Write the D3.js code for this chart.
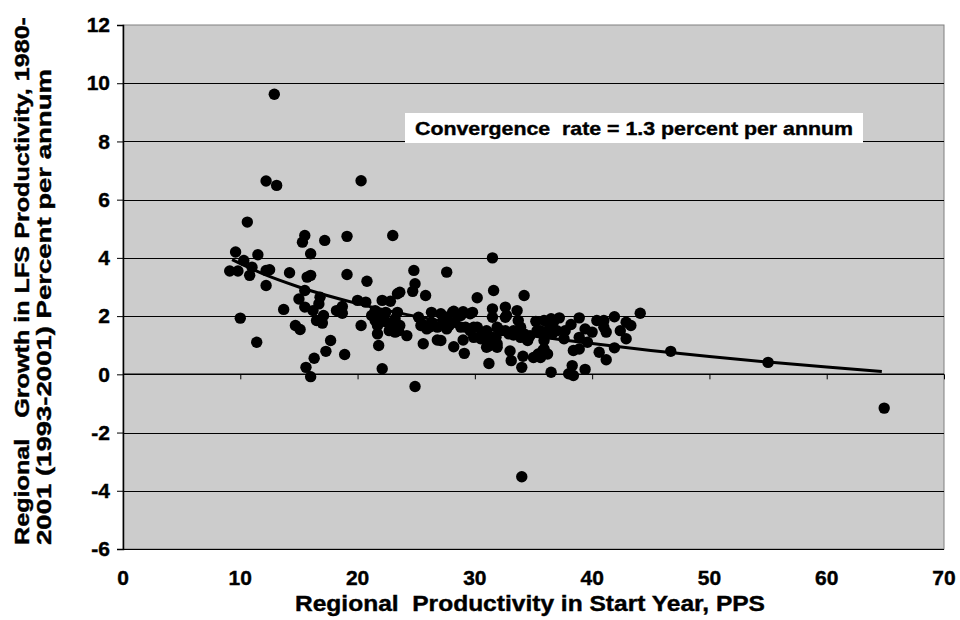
<!DOCTYPE html>
<html>
<head>
<meta charset="utf-8">
<script src="https://cdn.jsdelivr.net/npm/d3@7"></script>
<style>
  body { margin: 0; background: #fff; }
  svg text { font-family: "Liberation Sans", Arial, sans-serif; font-weight: bold; fill: #000; stroke: #000; stroke-width: 0.4px; }
</style>
</head>
<body>
<div id="chart"></div>
<script>
// regional productivity at start year (PPS) vs growth (% per annum)
let points = [
  [12.9, 9.62], [12.2, 6.64], [13.1, 6.49], [20.3, 6.65], [10.6, 5.23], [9.6, 4.2],
  [10.3, 3.91], [9.1, 3.55], [9.8, 3.55], [10.8, 3.4], [11.0, 3.68], [11.5, 4.11],
  [12.2, 3.57], [12.5, 3.59], [12.2, 3.05], [10.0, 1.93], [11.4, 1.1], [14.2, 3.49],
  [13.7, 2.23], [14.7, 1.68], [15.1, 1.54], [15.5, 4.77], [15.3, 4.54], [16.0, 4.14],
  [15.7, 3.34], [16.0, 3.4], [17.2, 4.6], [15.5, 2.88], [15.0, 2.59], [15.5, 2.31],
  [16.2, 2.19], [16.8, 2.65], [16.7, 2.42], [16.5, 1.85], [17.0, 1.76], [17.1, 2.02],
  [17.7, 1.16], [17.3, 0.79], [16.3, 0.55], [15.6, 0.24], [16.0, -0.08], [19.1, 4.74],
  [19.1, 3.43], [18.2, 2.19], [18.7, 2.33], [18.7, 2.1], [18.9, 0.68], [23.0, 4.77],
  [31.5, 4.0], [20.8, 3.2], [24.8, 3.57], [27.6, 3.51], [24.9, 3.11], [24.7, 2.85],
  [25.8, 2.71], [23.6, 2.82], [23.4, 2.77], [31.6, 2.88], [30.2, 2.63], [34.2, 2.71],
  [20.0, 2.54], [20.7, 2.48], [22.1, 2.54], [22.8, 2.51], [21.5, 2.19], [22.4, 2.13],
  [21.2, 2.02], [21.5, 1.85], [21.9, 1.91], [21.7, 1.68], [22.5, 1.79], [23.2, 1.91],
  [23.6, 1.68], [22.7, 1.5], [23.2, 1.45], [24.2, 1.33], [23.4, 2.13], [22.2, 2.08],
  [23.1, 1.79], [23.5, 1.5], [21.7, 1.39], [21.8, 0.99], [22.1, 0.19], [24.9, -0.42],
  [20.3, 1.68], [25.6, 1.05], [26.8, 1.18], [28.2, 0.95], [29.1, 0.72], [29.0, 1.18],
  [27.1, 1.16], [31.2, 0.37], [33.0, 0.8], [33.1, 0.47], [34.0, 0.24], [34.1, 0.62],
  [35.0, 0.58], [35.4, 0.7], [35.8, 0.82], [36.2, 0.7], [25.2, 1.96], [25.5, 1.73],
  [25.9, 1.56], [26.3, 2.13], [26.3, 1.79], [26.8, 1.62], [27.1, 2.08], [27.3, 1.73],
  [27.6, 1.56], [28.1, 2.13], [28.3, 1.79], [28.8, 2.02], [29.2, 1.62], [29.6, 2.08],
  [29.6, 1.5], [30.2, 1.62], [30.6, 1.45], [31.0, 1.5], [31.5, 1.27], [31.9, 1.05],
  [32.2, 1.5], [32.6, 2.31], [32.6, 1.96], [33.3, 1.5], [33.6, 2.19], [33.9, 1.62],
  [34.2, 1.39], [34.6, 1.27], [31.5, 2.25], [31.5, 1.96], [29.9, 1.27], [30.8, 1.27],
  [31.3, 0.99], [31.9, 1.62], [32.9, 1.39], [32.7, 2.02], [33.7, 1.85], [35.2, 1.82],
  [36.4, 1.73], [28.2, 2.17], [29.0, 2.15], [29.8, 2.13], [27.3, 1.85], [28.8, 1.62],
  [29.9, 1.62], [31.3, 1.16], [31.8, 1.27], [32.6, 1.5], [33.3, 1.35], [33.9, 1.27],
  [34.5, 1.16], [30.5, 1.22], [31.0, 0.93], [31.9, 0.93], [35.6, 1.5], [36.2, 1.39],
  [36.5, 0.07], [35.9, 1.16], [34.7, 1.33], [35.3, 1.5], [25.4, 1.68], [26.1, 1.62],
  [27.6, 1.96], [27.8, 1.68], [44.1, 2.1], [41.9, 1.98], [40.4, 1.85], [41.0, 1.85],
  [42.9, 1.79], [43.3, 1.68], [42.4, 1.5], [42.9, 1.22], [41.2, 1.45], [41.0, 1.62],
  [38.9, 1.94], [37.2, 1.94], [36.7, 1.79], [38.2, 1.71], [39.4, 1.56], [40.0, 1.45],
  [37.7, 1.5], [37.6, 1.22], [38.9, 1.27], [39.6, 1.1], [38.4, 0.82], [38.9, 0.87],
  [40.6, 0.76], [41.9, 0.91], [41.2, 0.5], [38.3, 0.3], [38.0, 0.02], [38.4, -0.04],
  [39.4, 0.17], [35.9, 0.87], [35.6, 0.58], [36.2, 1.5], [36.6, 1.39], [37.0, 1.5],
  [35.9, 1.85], [36.5, 1.91], [46.7, 0.79], [55.0, 0.41], [64.9, -1.16], [34.0, -3.52]
];

// fitted convergence curve
let trendX = [9.3, 12, 15, 20, 25, 30, 35, 40, 45, 50, 55, 60, 64.7];
let trendY = [3.94, 3.44, 3.0, 2.43, 1.99, 1.62, 1.32, 1.06, 0.82, 0.61, 0.42, 0.25, 0.1];

let xTicks = [0, 10, 20, 30, 40, 50, 60, 70];
let yTicks = [-6, -4, -2, 0, 2, 4, 6, 8, 10, 12];

let svgWidth = 960;
let svgHeight = 620;
let plotLeft = 123, plotRight = 944, plotTop = 25, plotBottom = 549;

let xScale = d3.scaleLinear().domain([0, 70]).range([plotLeft, plotRight]);
let yScale = d3.scaleLinear().domain([-6, 12]).range([plotBottom, plotTop]);

let svg = d3.select("#chart").append("svg")
  .attr("width", svgWidth)
  .attr("height", svgHeight);

// plot area
svg.append("rect")
  .attr("x", plotLeft).attr("y", plotTop)
  .attr("width", plotRight - plotLeft).attr("height", plotBottom - plotTop)
  .attr("fill", "#cccccc")
  .attr("stroke", "#808080")
  .attr("stroke-width", 1);

// gridlines
svg.append("g")
  .selectAll("line")
  .data(yTicks.filter((d) => d !== 0 && d !== 12))
  .enter()
  .append("line")
  .attr("x1", plotLeft).attr("x2", plotRight)
  .attr("y1", (d) => Math.round(yScale(d)) + 0.5)
  .attr("y2", (d) => Math.round(yScale(d)) + 0.5)
  .attr("stroke", "#000")
  .attr("stroke-width", 1);

// y axis
let yAxis = d3.axisLeft(yScale)
  .tickValues(yTicks)
  .tickSize(6)
  .tickPadding(7)
  .tickFormat((d) => String(d));
let gy = svg.append("g")
  .attr("transform", "translate(" + plotLeft + ",0)")
  .call(yAxis);
gy.select(".domain").attr("stroke", "#000").attr("stroke-width", 1.5);
gy.selectAll("text").style("font-size", "21px");

// x axis sits on the zero line, labels down at the bottom
let gx = svg.append("g")
  .attr("transform", "translate(0," + yScale(0) + ")")
  .call(d3.axisBottom(xScale).tickValues(xTicks).tickSize(5).tickFormat(""));
gx.select(".domain").attr("d", "M" + plotLeft + ",0H" + plotRight).attr("stroke", "#000").attr("stroke-width", 1.5);

svg.append("g")
  .selectAll("text")
  .data(xTicks)
  .enter()
  .append("text")
  .attr("x", (d) => xScale(d))
  .attr("y", 585)
  .attr("text-anchor", "middle")
  .style("font-size", "21px")
  .text((d) => d);

// points
svg.append("g")
  .selectAll("circle")
  .data(points)
  .enter()
  .append("circle")
  .attr("cx", (d) => xScale(d[0]))
  .attr("cy", (d) => yScale(d[1]))
  .attr("r", 5.7)
  .attr("fill", "#000");

// trend line
let line = d3.line()
  .x((d) => xScale(d))
  .y((d, i) => yScale(trendY[i]))
  .curve(d3.curveMonotoneX);

svg.append("path")
  .attr("fill", "none")
  .attr("stroke", "#000")
  .attr("stroke-width", 3)
  .attr("d", line(trendX));

// annotation box
svg.append("rect")
  .attr("x", 405).attr("y", 113)
  .attr("width", 458).attr("height", 30)
  .attr("fill", "#fff");
svg.append("text")
  .attr("x", 415).attr("y", 135)
  .style("font-size", "19px")
  .attr("textLength", 438)
  .attr("lengthAdjust", "spacingAndGlyphs")
  .attr("xml:space", "preserve")
  .text("Convergence  rate = 1.3 percent per annum");

// axis titles
svg.append("text")
  .attr("x", 295).attr("y", 611)
  .attr("xml:space", "preserve")
  .style("font-size", "22px")
  .attr("textLength", 470)
  .attr("lengthAdjust", "spacingAndGlyphs")
  .text("Regional  Productivity in Start Year, PPS");

svg.append("text")
  .attr("transform", "translate(29,545) rotate(-90)")
  .attr("xml:space", "preserve")
  .style("font-size", "20px")
  .attr("textLength", 528)
  .attr("lengthAdjust", "spacingAndGlyphs")
  .text("Regional   Growth in LFS Productivity, 1980-");

svg.append("text")
  .attr("transform", "translate(51,545) rotate(-90)")
  .attr("xml:space", "preserve")
  .style("font-size", "20px")
  .attr("textLength", 476)
  .attr("lengthAdjust", "spacingAndGlyphs")
  .text("2001 (1993-2001) Percent per annum");
</script>
</body>
</html>
